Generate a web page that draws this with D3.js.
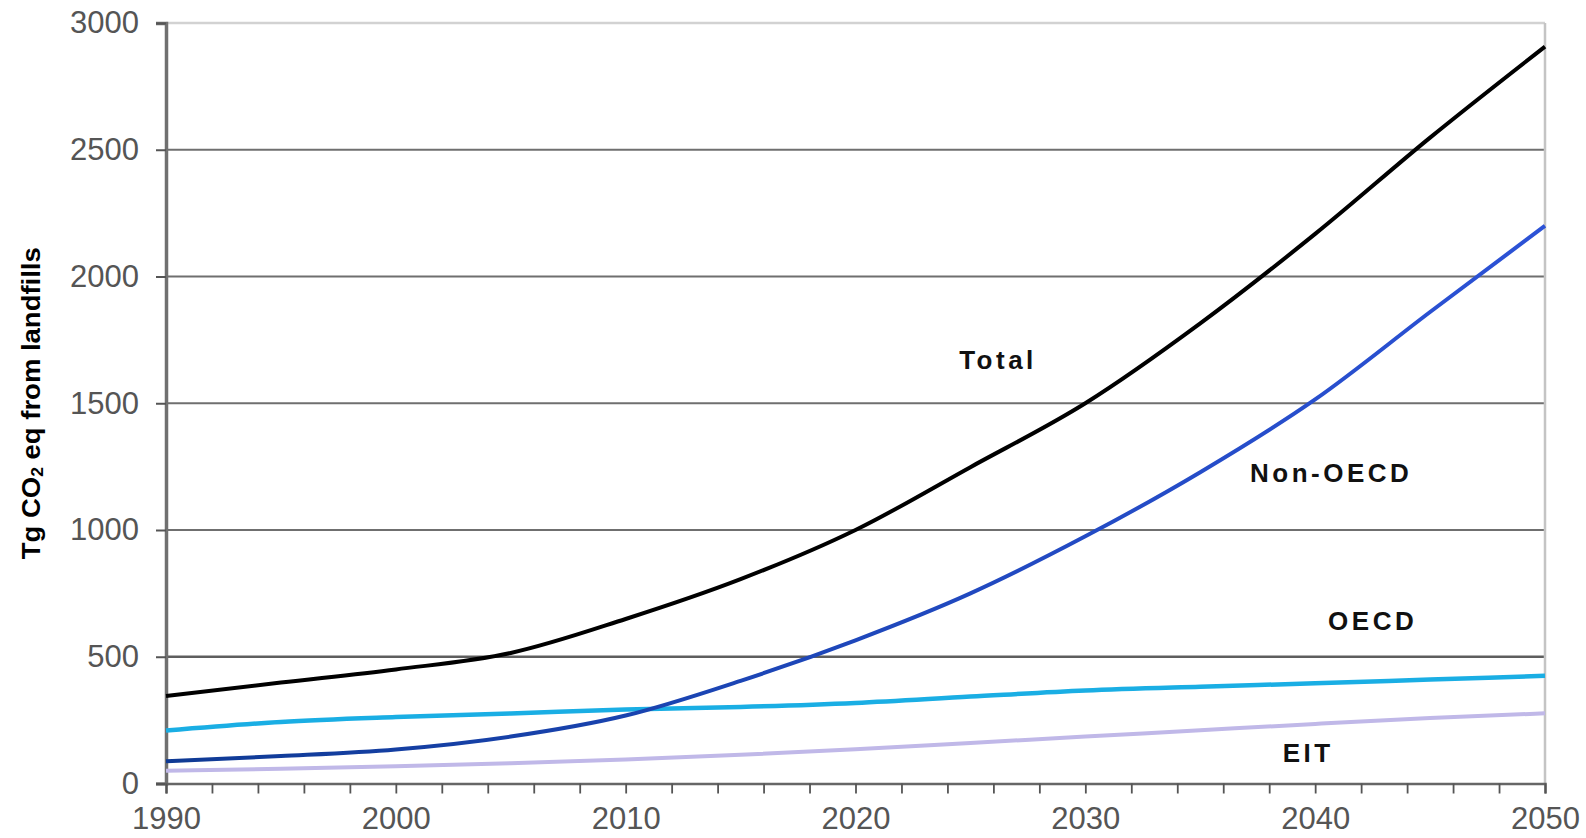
<!DOCTYPE html>
<html>
<head>
<meta charset="utf-8">
<script src="https://cdn.jsdelivr.net/npm/d3@7"></script>
<style>
  html, body { margin: 0; padding: 0; background: #fff; }
  svg { display: block; }
</style>
</head>
<body>
<svg id="chart" width="1586" height="838"></svg>
<script>
// ---- data ----
const years = [1990, 1995, 2000, 2005, 2010, 2015, 2020, 2025, 2030, 2035, 2040, 2045, 2050];
const total   = [345, 398, 450, 515, 649, 806, 1000, 1248, 1500, 1815, 2168, 2548, 2907];
const nonOECD = [88, 108, 134, 185, 268, 405, 565, 750, 975, 1228, 1515, 1860, 2200];
const oecd    = [209, 243, 262, 276, 292, 302, 318, 343, 367, 382, 395, 410, 425];
const eit     = [50, 58, 68, 80, 95, 113, 135, 160, 185, 210, 235, 258, 277];
const yTicks = [0, 500, 1000, 1500, 2000, 2500, 3000];
const xTickYears = d3.range(1990, 2051, 2);
const xLabelYears = [1990, 2000, 2010, 2020, 2030, 2040, 2050];
const seriesNames = ["Total", "Non-OECD", "OECD", "EIT"];
const yTitle = "Tg CO";

// ---- layout ----
const W = 1586, H = 838;
const m = { left: 166, right: 41, top: 23, bottom: 54.5 };
const svg = d3.select("#chart");
const x = d3.scaleLinear().domain([1990, 2050]).range([m.left, W - m.right]);
const y = d3.scaleLinear().domain([0, 3000]).range([H - m.bottom, m.top]);

const font = "'Liberation Sans', Arial, Helvetica, sans-serif";

// gridlines
svg.append("g").selectAll("line")
  .data(yTicks.filter(d => d > 0))
  .join("line")
  .attr("x1", x(1990)).attr("x2", x(2050))
  .attr("y1", d => y(d)).attr("y2", d => y(d))
  .attr("stroke", d => d === 3000 ? "#d2d2d2" : (d === 500 ? "#5e5e5e" : "#6f6f6f"))
  .attr("stroke-width", d => d === 3000 ? 2.5 : (d === 500 ? 2.4 : 1.8));

// right border
svg.append("line")
  .attr("x1", x(2050)).attr("x2", x(2050))
  .attr("y1", y(3000)).attr("y2", y(0))
  .attr("stroke", "#c4c4c4").attr("stroke-width", 2.5);

// y axis
const yAxis = svg.append("g")
  .attr("transform", `translate(${m.left},0)`)
  .call(d3.axisLeft(y).tickValues(yTicks).tickSize(10).tickPadding(17).tickFormat(d3.format("d")));
yAxis.select(".domain").attr("stroke", "#707070").attr("stroke-width", 3.5);
yAxis.selectAll(".tick line").attr("stroke", "#555").attr("stroke-width", 2);
yAxis.selectAll("text").attr("font-family", font).attr("font-size", 31).attr("fill", "#555");

// x axis
const xAxis = svg.append("g")
  .attr("transform", `translate(0,${y(0)})`)
  .call(d3.axisBottom(x).tickValues(xTickYears).tickSize(10).tickPadding(13)
    .tickFormat(d => xLabelYears.includes(d) ? String(d) : ""));
xAxis.select(".domain").attr("stroke", "#666").attr("stroke-width", 2.5);
xAxis.selectAll(".tick line").attr("stroke", "#555").attr("stroke-width", 1.8);
xAxis.selectAll("text").attr("font-family", font).attr("font-size", 31).attr("fill", "#555");

// gradient for Non-OECD (darker navy on left, royal blue on right)
const defs = svg.append("defs");
const grad = defs.append("linearGradient").attr("id", "nonoecdGrad")
  .attr("gradientUnits", "userSpaceOnUse")
  .attr("x1", x(1990)).attr("x2", x(2050)).attr("y1", 0).attr("y2", 0);
grad.append("stop").attr("offset", "0%").attr("stop-color", "#0f3a94");
grad.append("stop").attr("offset", "45%").attr("stop-color", "#1d46b8");
grad.append("stop").attr("offset", "100%").attr("stop-color", "#2c52d6");

const line = d3.line().x((d, i) => x(years[i])).y(d => y(d)).curve(d3.curveMonotoneX);

const series = [
  { name: "EIT", values: eit, color: "#c0b8e8", width: 4 },
  { name: "OECD", values: oecd, color: "#1aaee4", width: 4.5 },
  { name: "Non-OECD", values: nonOECD, color: "url(#nonoecdGrad)", width: 4 },
  { name: "Total", values: total, color: "#000", width: 4 }
];
svg.append("g").selectAll("path")
  .data(series)
  .join("path")
  .attr("d", d => line(d.values))
  .attr("fill", "none")
  .attr("stroke", d => d.color)
  .attr("stroke-width", d => d.width)
  .attr("stroke-linejoin", "round");

// series labels
const labels = [
  { text: seriesNames[0], year: 2026.2, val: 1670 },
  { text: seriesNames[1], year: 2040.7, val: 1225 },
  { text: seriesNames[2], year: 2042.5, val: 640 },
  { text: seriesNames[3], year: 2039.7, val: 120 }
];
svg.append("g").selectAll("text")
  .data(labels)
  .join("text")
  .attr("x", d => x(d.year))
  .attr("y", d => y(d.val))
  .attr("text-anchor", "middle")
  .attr("dominant-baseline", "central")
  .attr("font-family", font)
  .attr("font-weight", "bold")
  .attr("font-size", 26)
  .attr("letter-spacing", 3.5)
  .attr("fill", "#111")
  .text(d => d.text);

// y-axis title
const yt = svg.append("text")
  .attr("transform", `translate(31,${(y(0) + y(3000)) / 2}) rotate(-90)`)
  .attr("text-anchor", "middle")
  .attr("dominant-baseline", "central")
  .attr("font-family", font)
  .attr("font-weight", "bold")
  .attr("font-size", 25)
  .attr("textLength", 312)
  .attr("lengthAdjust", "spacingAndGlyphs")
  .attr("fill", "#000");
yt.append("tspan").text(yTitle);
yt.append("tspan").attr("font-size", 16).attr("dy", 6).text("2");
yt.append("tspan").attr("dy", -6).text(" eq from landfills");
</script>
</body>
</html>
